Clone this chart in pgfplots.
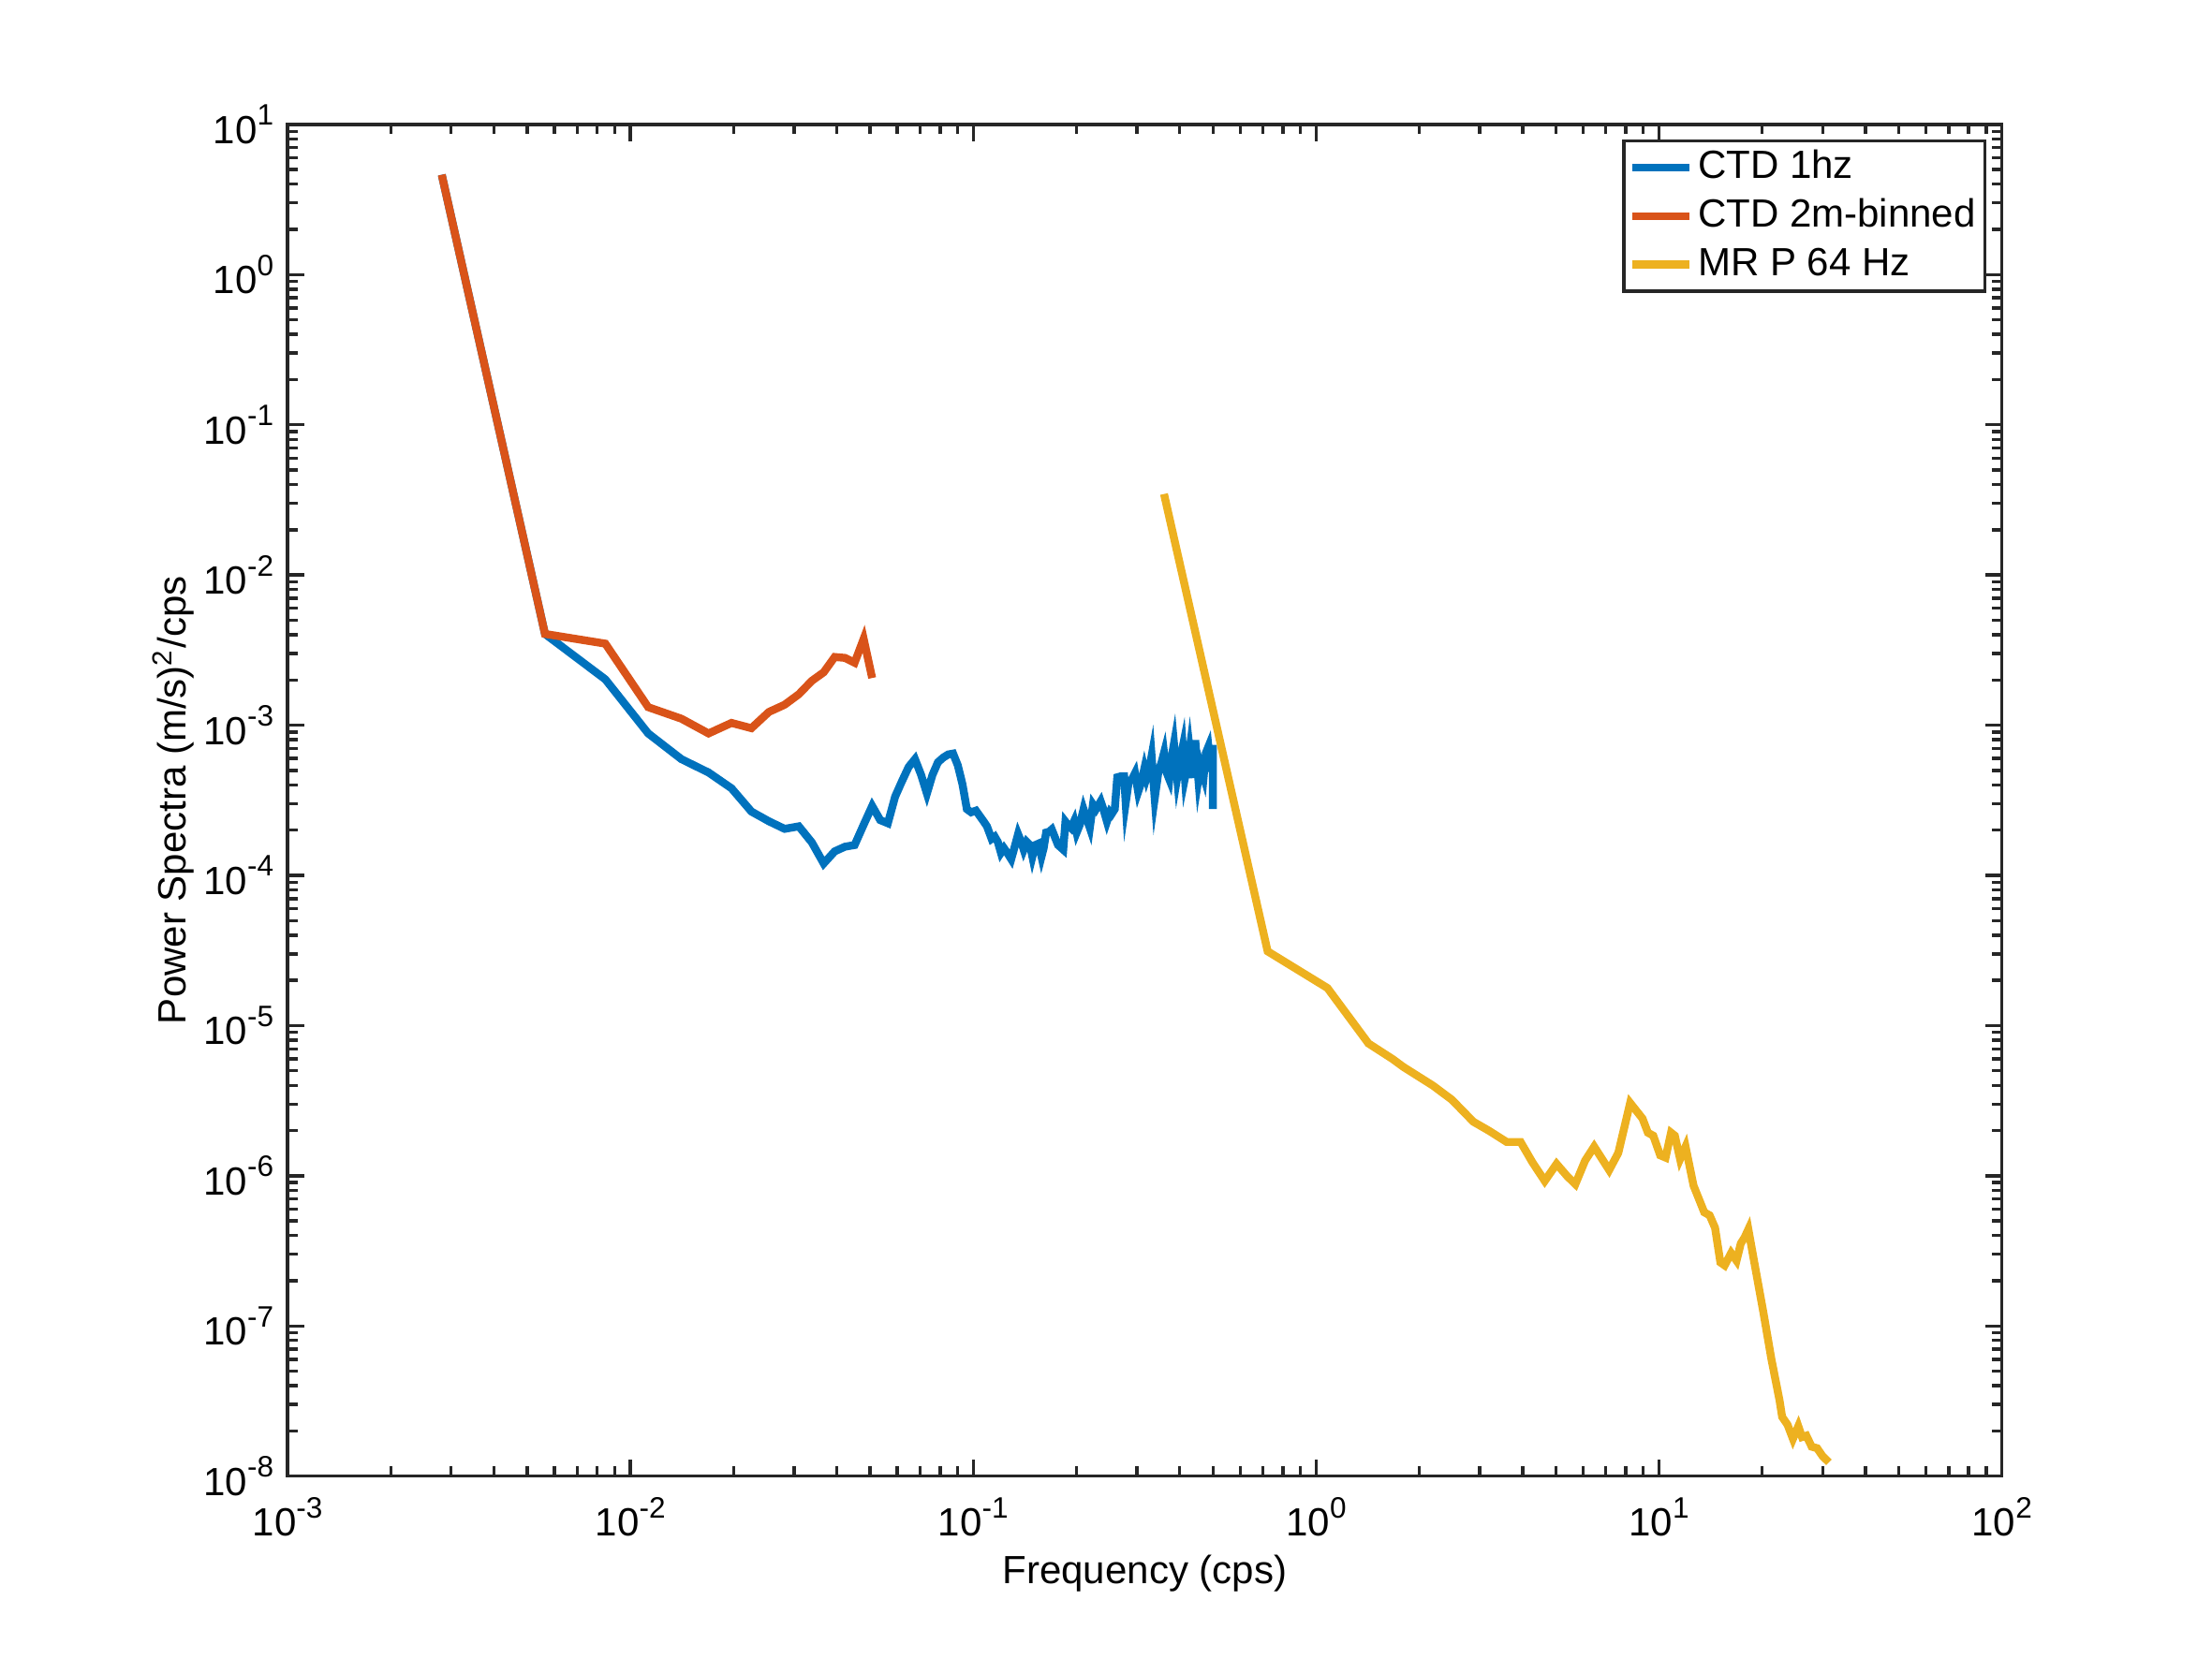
\documentclass[border=0pt]{standalone}
\usepackage{fontspec}
\setmainfont{Liberation Sans}
\usepackage{pgfplots}
\pgfplotsset{compat=1.18}
\definecolor{mblue}{rgb}{0,0.447,0.741}
\definecolor{morange}{rgb}{0.850,0.325,0.098}
\definecolor{myellow}{rgb}{0.929,0.694,0.125}
\definecolor{axgray}{rgb}{0.15,0.15,0.15}
\newcommand{\tl}[1]{10\raisebox{4.6bp}{\fontsize{7.5}{8}\selectfont #1}}
\begin{document}
\begin{tikzpicture}[x=1bp,y=1bp]
\path[use as bounding box] (0,0) rectangle (560,420);
\begin{axis}[
  at={(72.8bp,46.2bp)}, anchor=south west, scale only axis,
  width=434bp, height=342.3bp,
  xmode=log, ymode=log, xmin=1e-3, xmax=1e2, ymin=1e-8, ymax=1e1,
  xtick={1e-3,1e-2,1e-1,1e0,1e1,1e2},
  xticklabels={\tl{-3},\tl{-2},\tl{-1},\tl{0},\tl{1},\tl{2}},
  ytick={1e-8,1e-7,1e-6,1e-5,1e-4,1e-3,1e-2,1e-1,1e0,1e1},
  yticklabels={\tl{-8},\tl{-7},\tl{-6},\tl{-5},\tl{-4},\tl{-3},\tl{-2},\tl{-1},\tl{0},\tl{1}},
  minor xtick={2e-3,3e-3,4e-3,5e-3,6e-3,7e-3,8e-3,9e-3,2e-2,3e-2,4e-2,5e-2,6e-2,7e-2,8e-2,9e-2,0.2,0.3,0.4,0.5,0.6,0.7,0.8,0.9,2,3,4,5,6,7,8,9,20,30,40,50,60,70,80,90},
  minor ytick={2e-8,3e-8,4e-8,5e-8,6e-8,7e-8,8e-8,9e-8,2e-7,3e-7,4e-7,5e-7,6e-7,7e-7,8e-7,9e-7,2e-6,3e-6,4e-6,5e-6,6e-6,7e-6,8e-6,9e-6,2e-5,3e-5,4e-5,5e-5,6e-5,7e-5,8e-5,9e-5,2e-4,3e-4,4e-4,5e-4,6e-4,7e-4,8e-4,9e-4,2e-3,3e-3,4e-3,5e-3,6e-3,7e-3,8e-3,9e-3,2e-2,3e-2,4e-2,5e-2,6e-2,7e-2,8e-2,9e-2,0.2,0.3,0.4,0.5,0.6,0.7,0.8,0.9,2,3,4,5,6,7,8,9},
  tick align=inside, xtick pos=both, ytick pos=both,
  axis line style={axgray, line width=0.8bp},
  every tick/.style={axgray, line width=0.8bp},
  major tick length=4.3bp, minor tick length=2.5bp,
  tick label style={font=\fontsize{10}{12}\selectfont, text=black},
  xticklabel style={yshift=-1.9bp},
  yticklabel style={xshift=0bp},
  xlabel={Frequency (cps)},
  ylabel={Power Spectra (m/s)\textsuperscript{2}/cps},
  label style={font=\fontsize{11.1}{13}\selectfont, text=black},
  every axis x label/.style={at={(axis description cs:0.5,-0.0722)}, anchor=center},
  every axis y label/.style={at={(axis description cs:-0.0668,0.5)}, anchor=center, rotate=90},
  legend style={at={(0.991,0.989)}, anchor=north east, draw=axgray, line width=0.8bp,
    font=\fontsize{10}{12}\selectfont, inner xsep=1.2bp, inner ysep=0.6bp,
    nodes={inner xsep=1.1bp, inner ysep=1.65bp, text height=7.2bp, text depth=1.8bp},
    cells={anchor=west}},
  legend cell align=left,
  legend image code/.code={\draw[#1] (0bp,0bp) -- (14.5bp,0bp);},
]
\addplot[mblue, line width=2bp] coordinates {
(0.002817,4.62) (0.005634,4.05e-3) (0.008451,2.018e-3) (0.011268,8.81e-4) (0.014085,5.94e-4)
(0.016902,4.84e-4) (0.019719,3.80e-4) (0.022536,2.66e-4) (0.025353,2.29e-4) (0.02817,2.04e-4)
(0.030987,2.12e-4) (0.033804,1.66e-4) (0.036621,1.20e-4) (0.039438,1.445e-4) (0.042255,1.552e-4)
(0.045072,1.592e-4) (0.047889,2.173e-4) (0.050706,2.897e-4) (0.053523,2.333e-4) (0.05634,2.223e-4)
(0.059157,3.342e-4) (0.061974,4.246e-4) (0.064791,5.272e-4) (0.067608,5.94e-4) (0.070425,4.677e-4)
(0.073242,3.508e-4) (0.076059,4.677e-4) (0.078876,5.662e-4) (0.081693,6.081e-4) (0.08451,6.383e-4)
(0.087327,6.471e-4) (0.090144,5.395e-4) (0.092961,4.055e-4) (0.095778,2.761e-4) (0.098595,2.630e-4)
(0.1018,2.698e-4) (0.1073,2.280e-4) (0.1096,2.123e-4) (0.1131,1.750e-4) (0.1155,1.811e-4)
(0.1179,1.671e-4) (0.1204,1.413e-4) (0.1229,1.517e-4) (0.1256,1.413e-4) (0.1290,1.282e-4)
(0.1317,1.517e-4) (0.1351,1.884e-4) (0.1380,1.671e-4) (0.1403,1.483e-4) (0.1432,1.671e-4)
(0.1463,1.592e-4) (0.1487,1.334e-4) (0.1516,1.592e-4) (0.1551,1.629e-4) (0.1581,1.334e-4)
(0.1604,1.517e-4) (0.1631,1.928e-4) (0.1665,1.954e-4) (0.1694,2.023e-4) (0.1730,1.795e-4)
(0.1767,1.592e-4) (0.1830,1.483e-4) (0.1857,2.280e-4) (0.1888,2.173e-4) (0.1928,2.070e-4)
(0.1969,2.301e-4) (0.2002,1.928e-4) (0.2045,2.173e-4) (0.2097,2.761e-4) (0.2141,2.393e-4)
(0.2187,2.070e-4) (0.2234,2.965e-4) (0.2281,2.761e-4) (0.2353,3.112e-4) (0.2403,2.698e-4)
(0.2454,2.280e-4) (0.2506,2.630e-4) (0.2532,2.559e-4) (0.2586,2.761e-4) (0.2630,4.498e-4)
(0.2697,4.571e-4) (0.2754,4.571e-4) (0.2783,3.041e-4) (0.2842,4.246e-4) (0.2902,4.355e-4)
(0.2963,4.786e-4) (0.3026,3.597e-4) (0.3090,4.150e-4) (0.3155,5.152e-4) (0.3202,4.457e-4)
(0.3256,5.023e-4) (0.3312,6.237e-4) (0.3382,3.266e-4) (0.3468,4.909e-4) (0.3541,5.662e-4)
(0.3600,6.546e-4) (0.3654,4.909e-4) (0.3731,4.355e-4) (0.3787,6.081e-4) (0.3850,7.551e-4)
(0.3932,4.457e-4) (0.4015,5.94e-4) (0.4083,7.194e-4) (0.4143,4.457e-4) (0.4231,5.662e-4)
(0.4276,6.855e-4) (0.4366,4.457e-4) (0.4440,7.925e-4) (0.4534,4.355e-4) (0.4601,5.395e-4)
(0.4699,4.571e-4) (0.4768,6.546e-4) (0.4849,7.194e-4) (0.4931,4.909e-4) (0.4995,7.379e-4)
(0.5000,2.761e-4)
};
\addlegendentry{CTD 1hz}
\addplot[morange, line width=2bp] coordinates {
(0.002817,4.62) (0.005634,4.05e-3) (0.008451,3.49e-3) (0.011268,1.318e-3) (0.014085,1.104e-3)
(0.016902,8.81e-4) (0.019719,1.035e-3) (0.022536,9.55e-4) (0.025353,1.225e-3) (0.02817,1.368e-3)
(0.030987,1.607e-3) (0.033804,1.972e-3) (0.036621,2.249e-3) (0.039438,2.844e-3) (0.042255,2.805e-3)
(0.045072,2.606e-3) (0.047889,3.758e-3) (0.050706,2.061e-3)
};
\addlegendentry{CTD 2m-binned}
\addplot[myellow, line width=2bp] coordinates {
(0.360,0.0346) (0.722,3.12e-5) (1.079,1.778e-5) (1.421,7.60e-6) (1.672,5.98e-6)
(1.797,5.30e-6) (2.192,3.98e-6) (2.487,3.21e-6) (2.873,2.29e-6) (3.201,1.986e-6)
(3.594,1.679e-6) (3.947,1.679e-6) (4.272,1.230e-6) (4.642,9.23e-7) (5.026,1.199e-6)
(5.401,9.91e-7) (5.702,8.79e-7) (6.085,1.259e-6) (6.469,1.563e-6) (7.155,1.091e-6)
(7.607,1.419e-6) (8.237,3.055e-6) (8.950,2.404e-6) (9.280,1.936e-6) (9.621,1.849e-6)
(10.08,1.368e-6) (10.45,1.321e-6) (10.84,1.936e-6) (11.12,1.849e-6) (11.52,1.291e-6)
(11.95,1.563e-6) (12.61,8.59e-7) (13.55,5.71e-7) (14.05,5.45e-7) (14.57,4.50e-7)
(15.10,2.65e-7) (15.54,2.53e-7) (16.23,3.06e-7) (16.83,2.72e-7) (17.32,3.54e-7)
(17.77,3.89e-7) (18.22,4.40e-7) (18.75,3.06e-7) (20.15,1.233e-7) (21.27,6.01e-8)
(22.45,3.22e-8) (22.86,2.48e-8) (23.70,2.20e-8) (24.58,1.77e-8) (25.48,2.15e-8)
(26.13,1.82e-8) (26.90,1.86e-8) (27.88,1.57e-8) (28.91,1.535e-8) (29.98,1.36e-8)
(31.30,1.236e-8)
};
\addlegendentry{MR P 64 Hz}
\end{axis}
\end{tikzpicture}
\end{document}
